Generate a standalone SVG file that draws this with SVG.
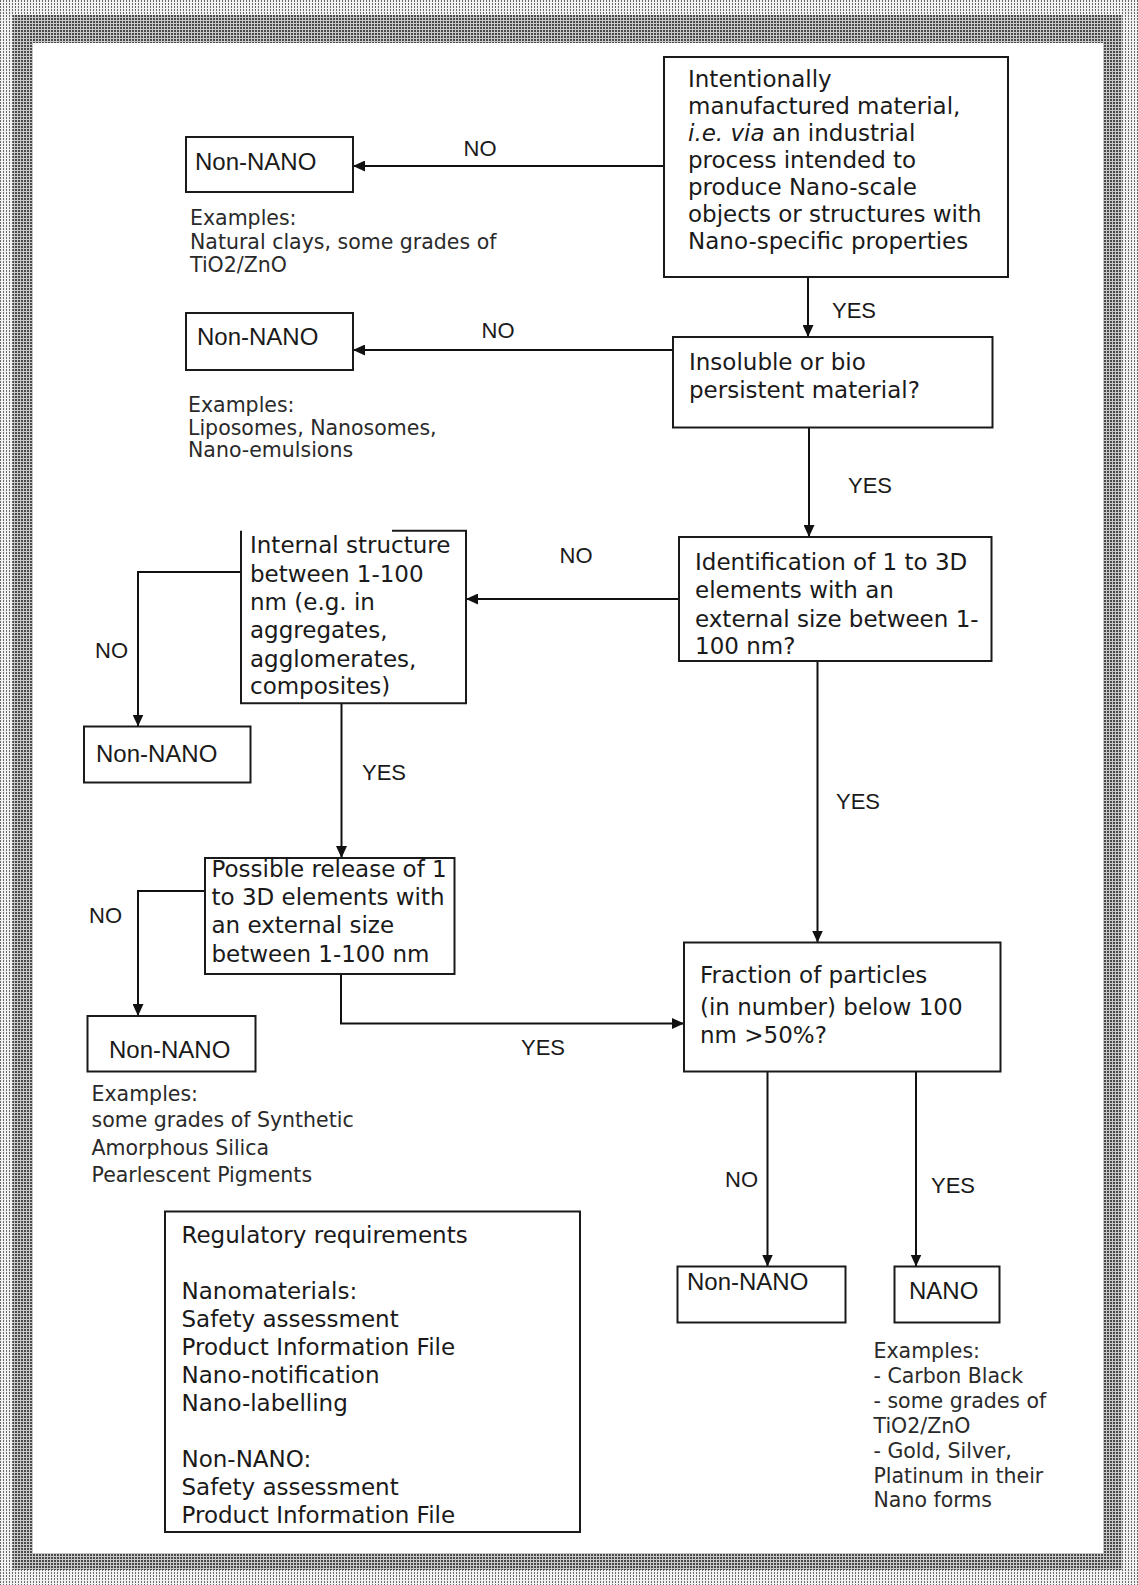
<svg xmlns="http://www.w3.org/2000/svg" width="1138" height="1585" viewBox="0 0 1138 1585">
  <defs>
    <pattern id="darkDots" width="3" height="3" patternUnits="userSpaceOnUse">
      <rect width="3" height="3" fill="#c8c8c8"/>
      <rect width="2" height="2" fill="#4a4a4a"/>
    </pattern>
    <pattern id="lightDots" width="3" height="3" patternUnits="userSpaceOnUse">
      <rect width="3" height="3" fill="#f2f2f2"/>
      <rect width="1" height="2" fill="#6a6a6a"/>
    </pattern>
    <marker id="arr" markerUnits="userSpaceOnUse" markerWidth="12" markerHeight="11" refX="12" refY="5.5" orient="auto">
      <path d="M0,0 L12,5.5 L0,11 z" fill="#111"/>
    </marker>
    <style>
      .box { fill: #fff; stroke: #1a1a1a; stroke-width: 2; }
      .t { font-family: "DejaVu Sans", Verdana, sans-serif; font-size: 23px; fill: #1a1a1a; }
      .ex { font-family: "DejaVu Sans", Verdana, sans-serif; font-size: 20.5px; fill: #2a2a2a; }
      .nn { font-family: "Liberation Sans", Arial, sans-serif; font-size: 24px; fill: #1a1a1a; }
      .lbl { font-family: "Liberation Sans", Arial, sans-serif; font-size: 22px; fill: #1a1a1a; }
      .conn { fill: none; stroke: #111; stroke-width: 2; marker-end: url(#arr); }
    </style>
  </defs>

  <!-- frame -->
  <g id="frame">
    <rect x="0" y="0" width="1138" height="1585" fill="url(#lightDots)"/>
    <rect x="13" y="15" width="1109" height="1555" fill="url(#darkDots)"/>
    <rect x="33" y="43" width="1070" height="1510" fill="#fff"/>
  </g>

  <!-- connectors -->
  <g id="connectors">
    <path class="conn" d="M664,166 H353"/>
    <path class="conn" d="M808,277 V337"/>
    <path class="conn" d="M673,350 H353"/>
    <path class="conn" d="M809,428 V537"/>
    <path class="conn" d="M679,599 H466"/>
    <path class="conn" d="M241,572 H138 V726.5"/>
    <path class="conn" d="M341.5,703 V858"/>
    <path class="conn" d="M205,891 H138 V1016"/>
    <path class="conn" d="M341,974 V1023.5 H684"/>
    <path class="conn" d="M817.5,661 V942.5"/>
    <path class="conn" d="M767.5,1071.5 V1266.5"/>
    <path class="conn" d="M916,1071.5 V1266.5"/>

    <text class="lbl" x="480" y="156" text-anchor="middle">NO</text>
    <text class="lbl" x="498" y="338" text-anchor="middle">NO</text>
    <text class="lbl" x="832" y="318">YES</text>
    <text class="lbl" x="848" y="493">YES</text>
    <text class="lbl" x="576" y="562.5" text-anchor="middle">NO</text>
    <text class="lbl" x="95" y="658">NO</text>
    <text class="lbl" x="362" y="780">YES</text>
    <text class="lbl" x="836" y="809">YES</text>
    <text class="lbl" x="89" y="922.5">NO</text>
    <text class="lbl" x="543" y="1055" text-anchor="middle">YES</text>
    <text class="lbl" x="725" y="1186.5">NO</text>
    <text class="lbl" x="931" y="1193">YES</text>
  </g>

  <!-- nodes -->
  <g id="n-intentional">
    <rect class="box" x="664" y="57" width="344" height="220"/>
    <text class="t" x="688" y="86.5">Intentionally</text>
    <text class="t" x="688" y="113.5">manufactured material,</text>
    <text class="t" x="688" y="140.5"><tspan font-style="italic">i.e. via</tspan> an industrial</text>
    <text class="t" x="688" y="167.5">process intended to</text>
    <text class="t" x="688" y="194.5">produce Nano-scale</text>
    <text class="t" x="688" y="221.5">objects or structures with</text>
    <text class="t" x="688" y="248.5">Nano-specific properties</text>
  </g>

  <g id="n-nonnano-1">
    <rect class="box" x="186" y="137" width="167" height="55"/>
    <text class="nn" x="195" y="170">Non-NANO</text>
  </g>
  <g id="ex-1">
    <text class="ex" x="190" y="225">Examples:</text>
    <text class="ex" x="190" y="248.5">Natural clays, some grades of</text>
    <text class="ex" x="190" y="272">TiO2/ZnO</text>
  </g>

  <g id="n-insoluble">
    <rect class="box" x="673" y="337" width="319.5" height="90.5"/>
    <text class="t" x="689" y="370">Insoluble or bio</text>
    <text class="t" x="689" y="397.5">persistent material?</text>
  </g>

  <g id="n-nonnano-2">
    <rect class="box" x="186" y="313" width="167" height="57"/>
    <text class="nn" x="197" y="345">Non-NANO</text>
  </g>
  <g id="ex-2">
    <text class="ex" x="188" y="411.5">Examples:</text>
    <text class="ex" x="188" y="435">Liposomes, Nanosomes,</text>
    <text class="ex" x="188" y="457">Nano-emulsions</text>
  </g>

  <g id="n-identification">
    <rect class="box" x="679" y="537" width="312.5" height="124"/>
    <text class="t" x="695" y="570">Identification of 1 to 3D</text>
    <text class="t" x="695" y="598.3">elements with an</text>
    <text class="t" x="695" y="626.6">external size between 1-</text>
    <text class="t" x="695" y="653.5">100 nm?</text>
  </g>

  <g id="n-internal">
    <path class="box" d="M392,530.7 H466 V703.3 H241 V530.7"/>
    <text class="t" x="250" y="553.3">Internal structure</text>
    <text class="t" x="250" y="581.6">between 1-100</text>
    <text class="t" x="250" y="609.9">nm (e.g. in</text>
    <text class="t" x="250" y="638.2">aggregates,</text>
    <text class="t" x="250" y="666.5">agglomerates,</text>
    <text class="t" x="250" y="694.3">composites)</text>
  </g>

  <g id="n-nonnano-3">
    <rect class="box" x="84" y="726.5" width="166.5" height="56"/>
    <text class="nn" x="96" y="761.5">Non-NANO</text>
  </g>

  <g id="n-release">
    <rect class="box" x="205" y="858" width="249.5" height="116"/>
    <text class="t" x="211.5" y="876.7">Possible release of 1</text>
    <text class="t" x="211.5" y="905">to 3D elements with</text>
    <text class="t" x="211.5" y="933.3">an external size</text>
    <text class="t" x="211.5" y="961.6">between 1-100 nm</text>
  </g>

  <g id="n-nonnano-4">
    <rect class="box" x="87.5" y="1016" width="168" height="55.5"/>
    <text class="nn" x="109" y="1058">Non-NANO</text>
  </g>
  <g id="ex-4">
    <text class="ex" x="91.5" y="1100.5">Examples:</text>
    <text class="ex" x="91.5" y="1127.3">some grades of Synthetic</text>
    <text class="ex" x="91.5" y="1154.5">Amorphous Silica</text>
    <text class="ex" x="91.5" y="1181.5">Pearlescent Pigments</text>
  </g>

  <g id="n-fraction">
    <rect class="box" x="684" y="942.5" width="316.5" height="129"/>
    <text class="t" x="700" y="983.3">Fraction of particles</text>
    <text class="t" x="700" y="1015">(in number) below 100</text>
    <text class="t" x="700" y="1043.3">nm &gt;50%?</text>
  </g>

  <g id="n-nonnano-5">
    <rect class="box" x="677.5" y="1266.5" width="168" height="56"/>
    <text class="nn" x="687" y="1290">Non-NANO</text>
  </g>

  <g id="n-nano">
    <rect class="box" x="894.5" y="1266.5" width="105" height="56"/>
    <text class="nn" x="909" y="1299.3">NANO</text>
  </g>
  <g id="ex-nano">
    <text class="ex" x="873.5" y="1358.3">Examples:</text>
    <text class="ex" x="873.5" y="1383.3">- Carbon Black</text>
    <text class="ex" x="873.5" y="1408.3">- some grades of</text>
    <text class="ex" x="873.5" y="1433.3">TiO2/ZnO</text>
    <text class="ex" x="873.5" y="1458.3">- Gold, Silver,</text>
    <text class="ex" x="873.5" y="1483.3">Platinum in their</text>
    <text class="ex" x="873.5" y="1507">Nano forms</text>
  </g>

  <g id="n-regulatory">
    <rect class="box" x="165" y="1211.5" width="415" height="320.5"/>
    <text class="t" x="181.5" y="1243.3">Regulatory requirements</text>
    <text class="t" x="181.5" y="1299.3">Nanomaterials:</text>
    <text class="t" x="181.5" y="1326.7">Safety assessment</text>
    <text class="t" x="181.5" y="1355">Product Information File</text>
    <text class="t" x="181.5" y="1382.7">Nano-notification</text>
    <text class="t" x="181.5" y="1411">Nano-labelling</text>
    <text class="t" x="181.5" y="1466.7">Non-NANO:</text>
    <text class="t" x="181.5" y="1495">Safety assessment</text>
    <text class="t" x="181.5" y="1522.7">Product Information File</text>
  </g>
</svg>
